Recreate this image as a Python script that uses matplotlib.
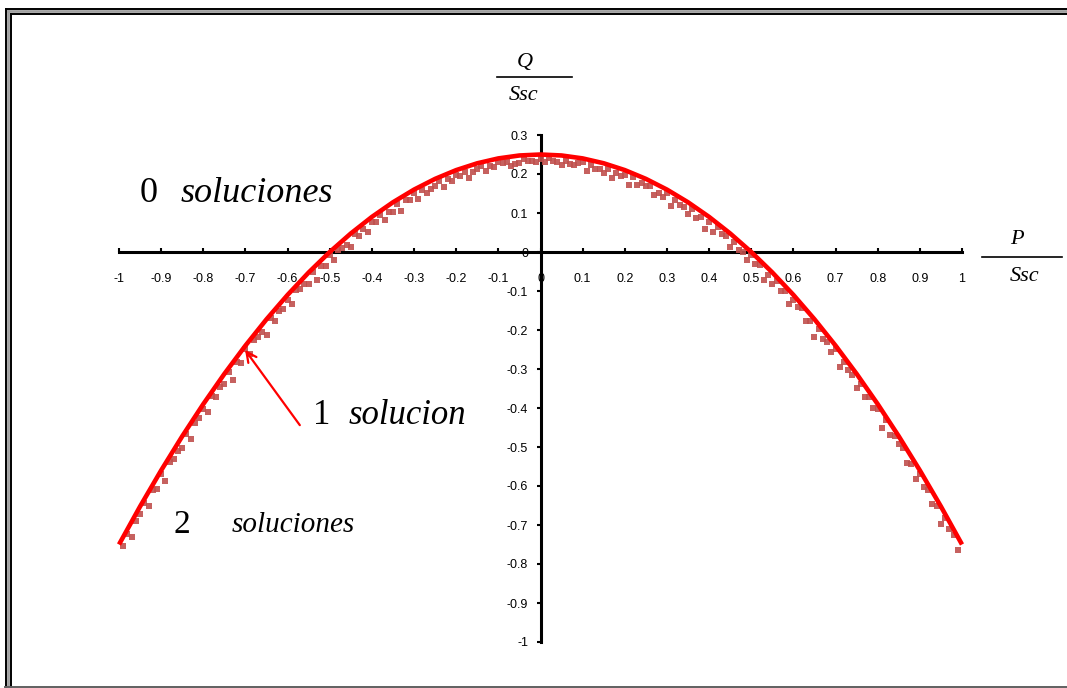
import numpy as np
import matplotlib
matplotlib.use("Agg")
import matplotlib.pyplot as plt
from matplotlib.lines import Line2D

# frontier curve Q/Ssc against P/Ssc
p_curve = [-1.0, -0.95, -0.9, -0.85, -0.8, -0.75, -0.7, -0.65, -0.6, -0.55, -0.5,
           -0.45, -0.4, -0.35, -0.3, -0.25, -0.2, -0.15, -0.1, -0.05, 0.0,
           0.05, 0.1, 0.15, 0.2, 0.25, 0.3, 0.35, 0.4, 0.45, 0.5,
           0.55, 0.6, 0.65, 0.7, 0.75, 0.8, 0.85, 0.9, 0.95, 1.0]
q_curve = [-0.75, -0.6525, -0.56, -0.4725, -0.39, -0.3125, -0.24, -0.1725, -0.11, -0.0525, 0.0,
           0.0475, 0.09, 0.1275, 0.16, 0.1875, 0.21, 0.2275, 0.24, 0.2475, 0.25,
           0.2475, 0.24, 0.2275, 0.21, 0.1875, 0.16, 0.1275, 0.09, 0.0475, 0.0,
           -0.0525, -0.11, -0.1725, -0.24, -0.3125, -0.39, -0.4725, -0.56, -0.6525, -0.75]

# operating points found just inside the frontier (two sweeps)
p_pts_a = [-0.99, -0.97, -0.95, -0.93, -0.91, -0.89, -0.87, -0.85, -0.83, -0.81,
           -0.79, -0.77, -0.75, -0.73, -0.71, -0.69, -0.67, -0.65, -0.63, -0.61,
           -0.59, -0.57, -0.55, -0.53, -0.51, -0.49, -0.47, -0.45, -0.43, -0.41,
           -0.39, -0.37, -0.35, -0.33, -0.31, -0.29, -0.27, -0.25, -0.23, -0.21,
           -0.19, -0.17, -0.15, -0.13, -0.11, -0.09, -0.07, -0.05, -0.03, -0.01,
           0.01, 0.03, 0.05, 0.07, 0.09, 0.11, 0.13, 0.15, 0.17, 0.19,
           0.21, 0.23, 0.25, 0.27, 0.29, 0.31, 0.33, 0.35, 0.37, 0.39,
           0.41, 0.43, 0.45, 0.47, 0.49, 0.51, 0.53, 0.55, 0.57, 0.59,
           0.61, 0.63, 0.65, 0.67, 0.69, 0.71, 0.73, 0.75, 0.77, 0.79,
           0.81, 0.83, 0.85, 0.87, 0.89, 0.91, 0.93, 0.95, 0.97, 0.99]
q_pts_a = [-0.755, -0.731, -0.673, -0.650, -0.608, -0.587, -0.532, -0.503, -0.479, -0.426,
           -0.409, -0.373, -0.338, -0.328, -0.284, -0.261, -0.219, -0.213, -0.177, -0.147,
           -0.133, -0.095, -0.083, -0.071, -0.035, -0.020, 0.009, 0.013, 0.040, 0.052,
           0.078, 0.083, 0.103, 0.106, 0.134, 0.136, 0.152, 0.168, 0.167, 0.181,
           0.194, 0.191, 0.213, 0.208, 0.218, 0.227, 0.220, 0.228, 0.234, 0.230,
           0.230, 0.234, 0.223, 0.225, 0.227, 0.208, 0.213, 0.203, 0.191, 0.194,
           0.171, 0.172, 0.168, 0.147, 0.141, 0.119, 0.121, 0.098, 0.088, 0.058,
           0.052, 0.045, 0.013, 0.004, -0.020, -0.030, -0.071, -0.083, -0.100, -0.133,
           -0.142, -0.177, -0.218, -0.224, -0.256, -0.294, -0.303, -0.348, -0.373, -0.399,
           -0.451, -0.469, -0.493, -0.542, -0.582, -0.603, -0.645, -0.698, -0.711, -0.765]

p_pts_b = [-0.98, -0.96, -0.94, -0.92, -0.90, -0.88, -0.86, -0.84, -0.82, -0.80,
           -0.78, -0.76, -0.74, -0.72, -0.70, -0.68, -0.66, -0.64, -0.62, -0.60,
           -0.58, -0.56, -0.54, -0.52, -0.50, -0.48, -0.46, -0.44, -0.42, -0.40,
           -0.38, -0.36, -0.34, -0.32, -0.30, -0.28, -0.26, -0.24, -0.22, -0.20,
           -0.18, -0.16, -0.14, -0.12, -0.10, -0.08, -0.06, -0.04, -0.02, 0.00,
           0.02, 0.04, 0.06, 0.08, 0.10, 0.12, 0.14, 0.16, 0.18, 0.20,
           0.22, 0.24, 0.26, 0.28, 0.30, 0.32, 0.34, 0.36, 0.38, 0.40,
           0.42, 0.44, 0.46, 0.48, 0.50, 0.52, 0.54, 0.56, 0.58, 0.60,
           0.62, 0.64, 0.66, 0.68, 0.70, 0.72, 0.74, 0.76, 0.78, 0.80,
           0.82, 0.84, 0.86, 0.88, 0.90, 0.92, 0.94, 0.96, 0.98]
q_pts_b = [-0.722, -0.690, -0.644, -0.611, -0.568, -0.538, -0.510, -0.466, -0.438, -0.402,
           -0.370, -0.346, -0.308, -0.283, -0.248, -0.226, -0.206, -0.170, -0.150, -0.122,
           -0.098, -0.082, -0.052, -0.035, -0.008, 0.006, 0.018, 0.046, 0.058, 0.078,
           0.094, 0.102, 0.124, 0.133, 0.152, 0.158, 0.162, 0.182, 0.186, 0.198,
           0.206, 0.206, 0.220, 0.221, 0.232, 0.230, 0.226, 0.238, 0.234, 0.238,
           0.240, 0.232, 0.234, 0.224, 0.232, 0.222, 0.212, 0.214, 0.203, 0.198,
           0.192, 0.176, 0.170, 0.152, 0.152, 0.134, 0.116, 0.110, 0.091, 0.078,
           0.064, 0.040, 0.026, 0.000, -0.008, -0.034, -0.060, -0.074, -0.101, -0.122,
           -0.144, -0.176, -0.198, -0.232, -0.248, -0.282, -0.316, -0.338, -0.373, -0.402,
           -0.432, -0.472, -0.502, -0.544, -0.568, -0.610, -0.652, -0.682, -0.725]

x_ticks = [-1, -0.9, -0.8, -0.7, -0.6, -0.5, -0.4, -0.3, -0.2, -0.1, 0,
           0.1, 0.2, 0.3, 0.4, 0.5, 0.6, 0.7, 0.8, 0.9, 1]
y_ticks = [-1, -0.9, -0.8, -0.7, -0.6, -0.5, -0.4, -0.3, -0.2, -0.1, 0, 0.1, 0.2, 0.3]

W, H = 1067, 688
fig = plt.figure(figsize=(W / 100, H / 100), dpi=100)

def fx(px):
    return px / W

def fy(py):
    return 1 - py / H

ax = fig.add_axes([fx(119), fy(642), fx(962) - fx(119), fy(135) - fy(642)])
ax.set_xlim(-1, 1)
ax.set_ylim(-1, 0.3)

ax.plot(p_pts_a, q_pts_a, 's', color='#c0504d', markersize=4.5, markeredgewidth=0,
        alpha=0.9, zorder=2, clip_on=False)
ax.plot(p_pts_b, q_pts_b, 's', color='#c0504d', markersize=3.8, markeredgewidth=0,
        alpha=0.9, zorder=2, clip_on=False)
ax.plot(p_curve, q_curve, color='#ff0000', linewidth=3.3, zorder=3,
        solid_capstyle='butt', clip_on=False)

# axes through the origin
for s in ['top', 'right']:
    ax.spines[s].set_visible(False)
ax.spines['left'].set_position('zero')
ax.spines['bottom'].set_position('zero')
ax.spines['left'].set_linewidth(2.2)
ax.spines['bottom'].set_linewidth(2.2)
ax.spines['left'].set_zorder(1)
ax.spines['bottom'].set_zorder(1)

ax.set_xticks(x_ticks)
ax.set_xticklabels([f"{v:g}" for v in x_ticks])
ax.set_yticks(y_ticks)
ax.set_yticklabels([f"{v:g}" for v in y_ticks])
ax.tick_params(axis='x', direction='in', length=3, width=1.5, pad=15,
               labelsize=9, labelfontfamily='Liberation Sans')
ax.tick_params(axis='y', direction='out', length=3, width=1.5, pad=6,
               labelsize=9, labelfontfamily='Liberation Sans')

serif = 'Liberation Serif'

# region labels
ax.text(-0.950, 0.151, "0", fontsize=26, family=serif, va='center', ha='left')
ax.text(-0.853, 0.151, "soluciones", fontsize=26, family=serif, style='italic',
        va='center', ha='left')
ax.text(-0.540, -0.418, "1", fontsize=25, family=serif, va='center', ha='left')
ax.text(-0.456, -0.418, "solucion", fontsize=25, family=serif, style='italic',
        va='center', ha='left')
ax.text(-0.870, -0.700, "2", fontsize=24, family=serif, va='center', ha='left')
ax.text(-0.732, -0.700, "soluciones", fontsize=21, family=serif, style='italic',
        va='center', ha='left')
ax.annotate("", xy=(-0.701, -0.251), xytext=(-0.571, -0.444),
            arrowprops=dict(arrowstyle='->', color='#ff0000', lw=1.6,
                            mutation_scale=18, shrinkA=0, shrinkB=0))

# axis labels written as fractions
fig.text(fx(525), fy(63), "Q", fontsize=16, family=serif, style='italic',
         ha='center', va='center')
fig.add_artist(Line2D([fx(497), fx(572)], [fy(77), fy(77)], color='black', lw=1.2))
fig.text(fx(524), fy(96), "Ssc", fontsize=16, family=serif, style='italic',
         ha='center', va='center')
fig.text(fx(1017), fy(240), "P", fontsize=16, family=serif, style='italic',
         ha='center', va='center')
fig.add_artist(Line2D([fx(982), fx(1062)], [fy(257), fy(257)], color='black', lw=1.2))
fig.text(fx(1025), fy(276), "Ssc", fontsize=16, family=serif, style='italic',
         ha='center', va='center')

# double frame
fig.add_artist(Line2D([fx(5.5), fx(W)], [fy(8.5), fy(8.5)], color='black', lw=1.4))
fig.add_artist(Line2D([fx(8), fx(W)], [fy(11), fy(11)], color='#a0a0a0', lw=2.0))
fig.add_artist(Line2D([fx(10.5), fx(W)], [fy(13.5), fy(13.5)], color='black', lw=1.4))
fig.add_artist(Line2D([fx(5.5), fx(5.5)], [fy(8.5), fy(H)], color='black', lw=1.4))
fig.add_artist(Line2D([fx(8), fx(8)], [fy(11), fy(H)], color='#a0a0a0', lw=2.0))
fig.add_artist(Line2D([fx(10.5), fx(10.5)], [fy(13.5), fy(H)], color='black', lw=1.4))
fig.add_artist(Line2D([fx(5), fx(W)], [fy(686.5), fy(686.5)], color='#606060', lw=1.4))

fig.savefig("out.png", dpi=100)
